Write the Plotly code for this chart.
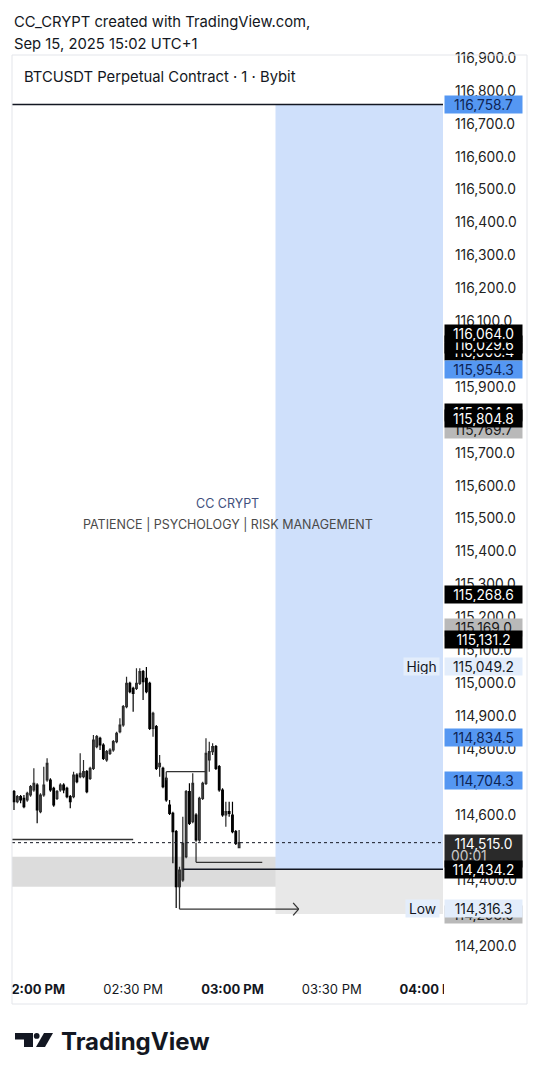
import plotly.graph_objects as go
import pandas as pd

# ---------------- data ----------------
times = pd.date_range("2025-09-15 13:54", periods=69, freq="min")

opens = [114670.0, 114639.6, 114654.8, 114649.7, 114644.7, 114659.9, 114675.1, 114690.3, 114609.2, 114659.9,
         114705.5, 114705.5, 114680.1, 114649.7, 114675.1, 114690.3, 114680.1, 114654.8, 114654.8, 114720.6,
         114715.6, 114715.6, 114730.8, 114710.5, 114740.9, 114806.8, 114832.1, 114811.8, 114766.2, 114786.5,
         114796.6, 114822.0, 114852.4, 114872.6, 114928.4, 114999.3, 114984.1, 114984.1, 114999.3, 115034.7,
         115014.5, 114999.3, 114862.5, 114867.6, 114746.0, 114740.9, 114710.5, 114629.5, 114604.1, 114548.4,
         114381.2, 114401.5, 114472.4, 114670.0, 114578.8, 114599.1, 114523.1, 114649.7, 114695.3, 114766.2,
         114791.6, 114806.8, 114746.0, 114675.1, 114599.1, 114609.2, 114599.1, 114548.4, 114499.8]
highs = [114675.1, 114659.9, 114659.9, 114659.9, 114670.0, 114690.3, 114740.9, 114695.3, 114664.9, 114746.0,
         114771.3, 114710.5, 114685.2, 114675.1, 114695.3, 114695.3, 114685.2, 114659.9, 114730.8, 114725.7,
         114786.5, 114766.2, 114735.8, 114746.0, 114842.2, 114842.2, 114837.2, 114816.9, 114796.6, 114801.7,
         114827.0, 114852.4, 114892.9, 114933.4, 115019.5, 115004.4, 114989.1, 115044.9, 115044.9, 115039.8,
         115049.2, 115004.4, 114913.2, 114872.6, 114781.4, 114746.0, 114715.6, 114644.7, 114609.2, 114553.5,
         114442.0, 114594.0, 114675.1, 114695.3, 114725.7, 114604.1, 114654.8, 114700.4, 114832.1, 114822.0,
         114816.9, 114811.8, 114751.0, 114680.1, 114639.6, 114639.6, 114639.6, 114553.5, 114553.5]
lows = [114614.3, 114634.5, 114634.5, 114619.3, 114639.6, 114654.8, 114670.0, 114573.8, 114604.1, 114654.8,
        114700.4, 114670.0, 114624.4, 114644.7, 114670.0, 114664.9, 114649.7, 114619.3, 114649.7, 114695.3,
        114710.5, 114710.5, 114664.9, 114705.5, 114735.8, 114801.7, 114796.6, 114766.2, 114761.2, 114781.4,
        114791.6, 114816.9, 114847.3, 114867.6, 114923.3, 114968.9, 114913.2, 114979.0, 114994.2, 114948.6,
        114968.9, 114857.4, 114837.2, 114735.8, 114715.6, 114680.1, 114639.6, 114599.1, 114452.2, 114316.3,
        114376.2, 114396.4, 114467.4, 114568.7, 114573.8, 114518.0, 114518.0, 114644.7, 114690.3, 114730.8,
        114781.4, 114735.8, 114670.0, 114594.0, 114563.6, 114594.0, 114543.3, 114507.9, 114497.8]
closes = [114639.6, 114654.8, 114644.7, 114624.4, 114664.9, 114685.2, 114695.3, 114614.3, 114659.9, 114690.3,
          114756.1, 114675.1, 114629.5, 114670.0, 114690.3, 114675.1, 114654.8, 114639.6, 114720.6, 114700.4,
          114725.7, 114730.8, 114670.0, 114740.9, 114827.0, 114837.2, 114811.8, 114771.3, 114791.6, 114796.6,
          114822.0, 114847.3, 114872.6, 114928.4, 114999.3, 114974.1, 114968.9, 114999.3, 115034.7, 115004.4,
          114974.1, 114862.5, 114908.1, 114740.9, 114756.1, 114685.2, 114644.7, 114604.1, 114548.4, 114381.2,
          114431.9, 114512.9, 114670.0, 114573.8, 114695.3, 114523.1, 114649.7, 114695.3, 114786.5, 114791.6,
          114806.8, 114740.9, 114675.1, 114599.1, 114609.2, 114604.1, 114548.4, 114512.9, 114515.0]

price_ticks = [114200, 114300, 114400, 114500, 114600, 114700, 114800, 114900, 115000, 115100,
               115200, 115300, 115400, 115500, 115600, 115700, 115800, 115900, 116000, 116100,
               116200, 116300, 116400, 116500, 116600, 116700, 116800, 116900]
price_tick_text = [f"{v:,.1f}" for v in price_ticks]

time_ticks = ["2025-09-15 14:00", "2025-09-15 14:30", "2025-09-15 15:00",
              "2025-09-15 15:30", "2025-09-15 16:00"]
time_tick_text = ["<b>02:00 PM</b>", "02:30 PM", "<b>03:00 PM</b>", "03:30 PM", "<b>04:00 PM</b>"]

# drawn levels
target_price = 116758.7
entry_price = 114434.2
stop_price = 114298.0
zone_top = 114472.0
zone_bottom = 114381.0
last_close = 114515.0
left_level = 114525.0
mid_level = 114455.3
box_level_top = 114730.7
box_level_bottom = 114705.0
low_price = 114316.3
high_price = 115049.2
arrow_start = 114420.0
arrow_level = 114313.0

# right-axis price labels: (price, text, kind)
price_labels = [
    (target_price, "116,758.7", "blue"),
    (116006.4, "116,006.4", "black"),
    (116029.6, "116,029.6", "black"),
    (116064.0, "116,064.0", "black"),
    (115954.3, "115,954.3", "blue"),
    (115824.0, "115,824.0", "black"),
    (115769.7, "115,769.7", "gray"),
    (115804.8, "115,804.8", "black"),
    (115268.6, "115,268.6", "black"),
    (115169.0, "115,169.0", "gray"),
    (115131.2, "115,131.2", "black"),
    (high_price, "115,049.2", "light"),
    (114834.5, "114,834.5", "blue"),
    (114704.3, "114,704.3", "blue"),
    (stop_price, "114,298.0", "gray"),
    (low_price, "114,316.3", "light"),
]

# ---------------- geometry helpers (page pixels) ----------------
OFF = 8                               # page body offset
FIG_W, FIG_H = 540 - OFF, 1080 - OFF
PL, PR, PT, PB = 12, 443, 55, 972     # plot area in page px
W_PX, H_PX = PR - PL, PB - PT


def px_x(x):
    return (x - PL) / W_PX


def px_y(y):
    return (PB - y) / H_PX


fig = go.Figure()
fig.add_trace(go.Candlestick(
    x=times, open=opens, high=highs, low=lows, close=closes,
    increasing=dict(line=dict(color="#2a2a2a", width=1.2), fillcolor="#555555"),
    decreasing=dict(line=dict(color="#000000", width=1.2), fillcolor="#000000"),
    whiskerwidth=0, hoverinfo="skip", showlegend=False,
))

shapes = []
T0, T1 = "2025-09-15 13:40", "2025-09-15 16:30"
# position tool
shapes.append(dict(type="rect", xref="x", yref="y", x0="2025-09-15 15:13", x1=T1,
                   y0=entry_price, y1=target_price, fillcolor="#cfe0fb", line_width=0, layer="below"))
shapes.append(dict(type="rect", xref="x", yref="y", x0="2025-09-15 15:13", x1=T1,
                   y0=stop_price, y1=entry_price, fillcolor="#e8e8e8", line_width=0, layer="below"))
# gray zone
shapes.append(dict(type="rect", xref="paper", yref="y", x0=0, x1=1, y0=zone_bottom, y1=zone_top,
                   fillcolor="rgba(120,120,120,0.26)", line_width=0, layer="below"))
# lines
line_dark = dict(color="#131722", width=1.5)
shapes.append(dict(type="line", xref="paper", yref="y", x0=0, x1=1, y0=target_price, y1=target_price,
                   line=line_dark, layer="above"))
shapes.append(dict(type="line", xref="x", yref="y", x0=T0, x1="2025-09-15 14:30", y0=left_level, y1=left_level,
                   line=dict(color="#333333", width=1.5), layer="above"))
shapes.append(dict(type="line", xref="paper", yref="y", x0=0, x1=1, y0=last_close, y1=last_close,
                   line=dict(color="#131722", width=1, dash="dot"), layer="above"))
shapes.append(dict(type="line", xref="x", yref="y", x0="2025-09-15 14:45", x1=T1, y0=entry_price, y1=entry_price,
                   line=dict(color="#131722", width=1.3), layer="above"))
mid_line = dict(color="#333333", width=1.3)
shapes.append(dict(type="line", xref="x", yref="y", x0="2025-09-15 14:49", x1="2025-09-15 15:09",
                   y0=mid_level, y1=mid_level, line=mid_line, layer="above"))
shapes.append(dict(type="line", xref="x", yref="y", x0="2025-09-15 14:49", x1="2025-09-15 14:49",
                   y0=last_close, y1=mid_level, line=mid_line, layer="above"))
shapes.append(dict(type="line", xref="x", yref="y", x0="2025-09-15 14:40", x1="2025-09-15 14:52",
                   y0=box_level_top, y1=box_level_top, line=mid_line, layer="above"))
shapes.append(dict(type="line", xref="x", yref="y", x0="2025-09-15 14:40", x1="2025-09-15 14:40",
                   y0=box_level_top, y1=box_level_bottom, line=mid_line, layer="above"))
# arrow
shapes.append(dict(type="line", xref="x", yref="y", x0="2025-09-15 14:44", x1="2025-09-15 14:44",
                   y0=arrow_start, y1=arrow_level, line=mid_line, layer="above"))
shapes.append(dict(type="line", xref="x", yref="y", x0="2025-09-15 14:44", x1="2025-09-15 15:20",
                   y0=arrow_level, y1=arrow_level, line=mid_line, layer="above"))
shapes.append(dict(type="line", xref="x", yref="y", x0="2025-09-15 15:18:20", x1="2025-09-15 15:20",
                   y0=arrow_level + 19, y1=arrow_level, line=mid_line, layer="above"))
shapes.append(dict(type="line", xref="x", yref="y", x0="2025-09-15 15:18:20", x1="2025-09-15 15:20",
                   y0=arrow_level - 19, y1=arrow_level, line=mid_line, layer="above"))

# masks to clip the time-axis labels
shapes.append(dict(type="rect", xref="paper", yref="paper", x0=px_x(444), x1=px_x(526.5),
                   y0=px_y(1003.5), y1=px_y(972.5), fillcolor="white", line_width=0, layer="above"))
shapes.append(dict(type="rect", xref="paper", yref="paper", x0=px_x(-10), x1=px_x(11.5),
                   y0=px_y(1003.5), y1=px_y(972.5), fillcolor="white", line_width=0, layer="above"))
# chart frame
shapes.append(dict(type="rect", xref="paper", yref="paper", x0=px_x(12), x1=px_x(527),
                   y0=px_y(1004), y1=px_y(55), line=dict(color="#e3e5ea", width=1),
                   fillcolor="rgba(0,0,0,0)", layer="above"))


# TradingView logo
def pth(points):
    return "M " + " L ".join(f"{px_x(a):.5f},{px_y(b):.5f}" for a, b in points) + " Z"


logo_col = "#131722"
shapes.append(dict(type="path", xref="paper", yref="paper",
                   path=pth([(15, 1033), (33, 1033), (33, 1047), (24, 1047), (24, 1039.5), (15, 1039.5)]),
                   fillcolor=logo_col, line_width=0, layer="above"))
shapes.append(dict(type="circle", xref="paper", yref="paper", x0=px_x(33.8), x1=px_x(39.6),
                   y0=px_y(1038.8), y1=px_y(1033), fillcolor=logo_col, line_width=0, layer="above"))
shapes.append(dict(type="path", xref="paper", yref="paper",
                   path=pth([(44, 1033), (53, 1033), (45, 1047), (36, 1047)]),
                   fillcolor=logo_col, line_width=0, layer="above"))

annotations = []
FONT = "Inter, Roboto, Arial, sans-serif"
# header
annotations.append(dict(xref="paper", yref="paper", x=px_x(12), y=px_y(22), xanchor="left", yanchor="middle",
                        text="CC_CRYPT created with TradingView.com,", showarrow=False,
                        font=dict(size=14.8, color="#131722", family=FONT)))
annotations.append(dict(xref="paper", yref="paper", x=px_x(12), y=px_y(44), xanchor="left", yanchor="middle",
                        text="Sep 15, 2025 15:02 UTC+1", showarrow=False,
                        font=dict(size=14.8, color="#131722", family=FONT)))
annotations.append(dict(xref="paper", yref="paper", x=px_x(22), y=px_y(77), xanchor="left", yanchor="middle",
                        text="BTCUSDT Perpetual Contract · 1 · Bybit", showarrow=False,
                        font=dict(size=14.8, color="#131722", family=FONT)))
# watermark
annotations.append(dict(xref="paper", yref="paper", x=px_x(227), y=px_y(503), xanchor="center", yanchor="middle",
                        text="CC CRYPT", showarrow=False, font=dict(size=12.5, color="#42507c", family=FONT)))
annotations.append(dict(xref="paper", yref="paper", x=px_x(228), y=px_y(524), xanchor="center", yanchor="middle",
                        text="PATIENCE | PSYCHOLOGY | RISK MANAGEMENT", showarrow=False,
                        font=dict(size=12.5, color="#4a4a4a", family=FONT)))
# bottom brand
annotations.append(dict(xref="paper", yref="paper", x=px_x(59), y=px_y(1041), xanchor="left", yanchor="middle",
                        text="<b>TradingView</b>", showarrow=False,
                        font=dict(size=24, color="#131722", family=FONT)))

styles = {
    "blue": ("#5597f2", "#0d2353"),
    "black": ("#000000", "#ffffff"),
    "gray": ("#b9b9b9", "#1a1a1a"),
    "light": ("#e3edfb", "#131722"),
}
LBL = 13.8


def add_price_label(price, text, kind):
    bg, fg = styles[kind]
    annotations.append(dict(xref="paper", yref="y", x=1, xshift=1, y=price, xanchor="left", yanchor="middle",
                            text=text, showarrow=False, bgcolor=bg, borderpad=1, width=75, height=15,
                            align="center", font=dict(size=LBL, color=fg, family=FONT)))


for p, t, k in price_labels[:-4]:
    add_price_label(p, t, k)

# High tag
annotations.append(dict(xref="paper", yref="y", x=px_x(440), y=high_price, xanchor="right", yanchor="middle",
                        text="High", showarrow=False, bgcolor="#e3edfb", borderpad=1, width=33, height=15,
                        font=dict(size=LBL, color="#131722", family=FONT)))
for p, t, k in price_labels[-4:]:
    add_price_label(p, t, k)
# Low tag
annotations.append(dict(xref="paper", yref="y", x=px_x(440), y=low_price, xanchor="right", yanchor="middle",
                        text="Low", showarrow=False, bgcolor="#e3edfb", borderpad=1, width=31, height=15,
                        font=dict(size=LBL, color="#131722", family=FONT)))
# last price + countdown
annotations.append(dict(xref="paper", yref="y", x=1, xshift=1, y=last_close, yshift=9, xanchor="left",
                        yanchor="top", text="114,515.0", showarrow=False, bgcolor="#2a2a2a", borderpad=1,
                        width=75, height=30, align="center", valign="top",
                        font=dict(size=LBL, color="#ffffff", family=FONT)))
annotations.append(dict(xref="paper", yref="y", x=1, xshift=6, y=last_close, yshift=-13, xanchor="left",
                        yanchor="middle", text="00:01", showarrow=False,
                        font=dict(size=LBL, color="#c9c9c9", family=FONT)))
add_price_label(entry_price, "114,434.2", "black")

fig.update_layout(
    width=FIG_W, height=FIG_H,
    margin=dict(l=PL - OFF, r=FIG_W - (PR - OFF), t=PT - OFF, b=FIG_H - (PB - OFF), autoexpand=False),
    paper_bgcolor="white", plot_bgcolor="white",
    showlegend=False, hovermode=False,
    font=dict(family=FONT, color="#131722"),
    shapes=shapes, annotations=annotations,
    xaxis=dict(type="date", range=["2025-09-15 13:53:24", "2025-09-15 16:03:36"],
               tickmode="array", tickvals=time_ticks, ticktext=time_tick_text,
               showgrid=False, zeroline=False, showline=False, ticks="", automargin=False,
               ticklabeloverflow="allow",
               tickfont=dict(size=13, color="#131722", family=FONT),
               rangeslider=dict(visible=False), ticklabelstandoff=8),
    yaxis=dict(side="right", range=[114121.9, 116909.1], tickmode="array",
               tickvals=price_ticks, ticktext=price_tick_text, automargin=False,
               ticklabeloverflow="allow",
               showgrid=False, zeroline=False, showline=False, ticks="",
               tickfont=dict(size=LBL, color="#222222", family=FONT), ticklabelstandoff=11),
)

fig.write_html("out.html")
